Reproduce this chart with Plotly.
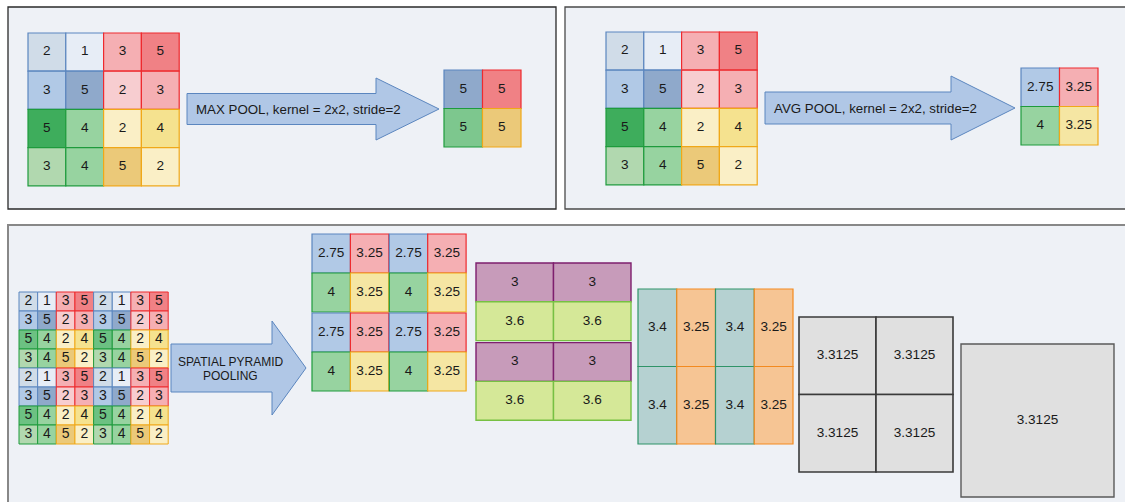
import plotly.graph_objects as go

# ---------------- data ----------------
BLUE, RED, GREEN, ORANGE = "#5B86BF", "#EE2A2E", "#1E9B3C", "#F0A818"
PURPLE, LIME, TEAL, AMBER, DARK, GREYL = "#7E1F6E", "#77C043", "#2F9468", "#F38A1F", "#3A3A3A", "#5A5A5A"

input_values = [[2, 1, 3, 5], [3, 5, 2, 3], [5, 4, 2, 4], [3, 4, 5, 2]]
input_fills = [
    ["#D0DCE8", "#E7EDF6", "#F5AFB3", "#F08185"],
    ["#B1C9E6", "#8FA9CB", "#F7CDD0", "#F5AFB3"],
    ["#3EAD5C", "#97D3A0", "#FAEFC6", "#F5E28F"],
    ["#B1D8AF", "#97D3A0", "#EBC979", "#FAEFC6"],
]
input_lines = [
    [BLUE, BLUE, RED, RED],
    [BLUE, BLUE, RED, RED],
    [GREEN, GREEN, ORANGE, ORANGE],
    [GREEN, GREEN, ORANGE, ORANGE],
]

maxpool_values = [[5, 5], [5, 5]]
maxpool_fills = [["#8FA9CB", "#F08185"], ["#7DC78E", "#EBC979"]]
pool_lines = [[BLUE, RED], [GREEN, ORANGE]]

avgpool_values = [["2.75", "3.25"], ["4", "3.25"]]
avgpool_fills = [["#B1C9E6", "#F5AFB3"], ["#97D3A0", "#F5E6A3"]]

spp_values = [
    [2, 1, 3, 5, 2, 1, 3, 5],
    [3, 5, 2, 3, 3, 5, 2, 3],
    [5, 4, 2, 4, 5, 4, 2, 4],
    [3, 4, 5, 2, 3, 4, 5, 2],
    [2, 1, 3, 5, 2, 1, 3, 5],
    [3, 5, 2, 3, 3, 5, 2, 3],
    [5, 4, 2, 4, 5, 4, 2, 4],
    [3, 4, 5, 2, 3, 4, 5, 2],
]
spp_fills = [
    ["#D0DCE8", "#E7EDF6", "#F5AFB3", "#F08185", "#D0DCE8", "#E7EDF6", "#F5AFB3", "#F08185"],
    ["#B1C9E6", "#8FA9CB", "#F7CDD0", "#F5AFB3", "#B1C9E6", "#8FA9CB", "#F7CDD0", "#F5AFB3"],
    ["#6CC182", "#97D3A0", "#FAEFC6", "#F5E28F", "#6CC182", "#97D3A0", "#FAEFC6", "#F5E28F"],
    ["#B1D8AF", "#97D3A0", "#EBC979", "#FAEFC6", "#B1D8AF", "#97D3A0", "#EBC979", "#FAEFC6"],
    ["#D0DCE8", "#E7EDF6", "#F5AFB3", "#F08185", "#D0DCE8", "#E7EDF6", "#F5AFB3", "#F08185"],
    ["#B1C9E6", "#8FA9CB", "#F7CDD0", "#F5AFB3", "#B1C9E6", "#8FA9CB", "#F7CDD0", "#F5AFB3"],
    ["#6CC182", "#97D3A0", "#FAEFC6", "#F5E28F", "#6CC182", "#97D3A0", "#FAEFC6", "#F5E28F"],
    ["#B1D8AF", "#97D3A0", "#EBC979", "#FAEFC6", "#B1D8AF", "#97D3A0", "#EBC979", "#FAEFC6"],
]
spp_lines = [
    [BLUE, BLUE, RED, RED, BLUE, BLUE, RED, RED],
    [BLUE, BLUE, RED, RED, BLUE, BLUE, RED, RED],
    [GREEN, GREEN, ORANGE, ORANGE, GREEN, GREEN, ORANGE, ORANGE],
    [GREEN, GREEN, ORANGE, ORANGE, GREEN, GREEN, ORANGE, ORANGE],
    [BLUE, BLUE, RED, RED, BLUE, BLUE, RED, RED],
    [BLUE, BLUE, RED, RED, BLUE, BLUE, RED, RED],
    [GREEN, GREEN, ORANGE, ORANGE, GREEN, GREEN, ORANGE, ORANGE],
    [GREEN, GREEN, ORANGE, ORANGE, GREEN, GREEN, ORANGE, ORANGE],
]

level1_values = [
    ["2.75", "3.25", "2.75", "3.25"],
    ["4", "3.25", "4", "3.25"],
    ["2.75", "3.25", "2.75", "3.25"],
    ["4", "3.25", "4", "3.25"],
]
level1_fills = [
    ["#B1C9E6", "#F5AFB3", "#B1C9E6", "#F5AFB3"],
    ["#97D3A0", "#F5E6A3", "#97D3A0", "#F5E6A3"],
    ["#B1C9E6", "#F5AFB3", "#B1C9E6", "#F5AFB3"],
    ["#97D3A0", "#F5E6A3", "#97D3A0", "#F5E6A3"],
]
level1_lines = [
    [BLUE, RED, BLUE, RED],
    [GREEN, ORANGE, GREEN, ORANGE],
    [BLUE, RED, BLUE, RED],
    [GREEN, ORANGE, GREEN, ORANGE],
]

level2_values = [["3", "3"], ["3.6", "3.6"], ["3", "3"], ["3.6", "3.6"]]
level2_fills = [["#C79BBA", "#C79BBA"], ["#D5E898", "#D5E898"], ["#C79BBA", "#C79BBA"], ["#D5E898", "#D5E898"]]
level2_lines = [[PURPLE, PURPLE], [LIME, LIME], [PURPLE, PURPLE], [LIME, LIME]]

level3_values = [["3.4", "3.25", "3.4", "3.25"], ["3.4", "3.25", "3.4", "3.25"]]
level3_fills = [["#B5D1D1", "#F6C594", "#B5D1D1", "#F6C594"], ["#B5D1D1", "#F6C594", "#B5D1D1", "#F6C594"]]
level3_lines = [[TEAL, AMBER, TEAL, AMBER], [TEAL, AMBER, TEAL, AMBER]]

level4_values = [["3.3125", "3.3125"], ["3.3125", "3.3125"]]
level4_fills = [["#E0E0E0", "#E0E0E0"], ["#E0E0E0", "#E0E0E0"]]
level4_lines = [[DARK, DARK], [DARK, DARK]]

level5_values = [["3.3125"]]
level5_fills = [["#E0E0E0"]]
level5_lines = [[GREYL]]

arrow_labels = ["MAX POOL, kernel = 2x2, stride=2", "AVG POOL, kernel = 2x2, stride=2"]
spp_label_lines = ["SPATIAL PYRAMID", "POOLING"]

# ---------------- layout geometry ----------------
W, H = 1125, 502
FONT = "Liberation Sans, Arial, sans-serif"
TXT = "#1A1A1A"
PANEL_BG = "#EEF1F6"

fig = go.Figure()
shapes = []

# panels
shapes.append(dict(type="rect", x0=8, y0=7, x1=556, y1=209, fillcolor=PANEL_BG,
                   line=dict(color="#2A2A2A", width=1.3), layer="below"))
shapes.append(dict(type="rect", x0=565, y0=7, x1=1135, y1=209, fillcolor=PANEL_BG,
                   line=dict(color="#4A4A4A", width=1.3), layer="below"))
shapes.append(dict(type="rect", x0=8, y0=225, x1=1135, y1=515, fillcolor=PANEL_BG,
                   line=dict(color="#888888", width=2), layer="below"))


def add_grid(values, fills, lines, x0, y0, cw, ch, size=13.6, lw=1.2,
             col_gap=None, row_gap=None):
    col_gap = col_gap or {}
    row_gap = row_gap or {}
    xs, ys, ts = [], [], []
    ny, nx = len(values), len(values[0])
    xe = []
    cx = x0
    for j in range(nx):
        xe.append(cx)
        cx += cw + col_gap.get(j, 0)
    ye = []
    cy = y0
    for i in range(ny):
        ye.append(cy)
        cy += ch + row_gap.get(i, 0)
    for i in range(ny):
        for j in range(nx):
            shapes.append(dict(type="rect", x0=xe[j], x1=xe[j] + cw, y0=ye[i], y1=ye[i] + ch,
                               fillcolor=fills[i][j], line=dict(color=lines[i][j], width=lw),
                               layer="below"))
            xs.append(xe[j] + cw / 2)
            ys.append(ye[i] + ch / 2)
            ts.append(str(values[i][j]))
    fig.add_trace(go.Scatter(x=xs, y=ys, text=ts, mode="text", textposition="middle center",
                             textfont=dict(family=FONT, size=size, color=TXT),
                             hoverinfo="skip", showlegend=False))


def add_arrow(xl, xh, xt, yc, sh, hh, fill="#B0C7E6", line="#5B86BF"):
    path = (f"M {xl},{yc - sh} L {xh},{yc - sh} L {xh},{yc - hh} L {xt},{yc} "
            f"L {xh},{yc + hh} L {xh},{yc + sh} L {xl},{yc + sh} Z")
    shapes.append(dict(type="path", path=path, fillcolor=fill,
                       line=dict(color=line, width=1), layer="below"))


# panel 1
add_grid(input_values, input_fills, input_lines, 28, 33, 37.8, 38.2)
add_arrow(187, 376, 439, 109, 15.5, 31)
add_grid(maxpool_values, maxpool_fills, pool_lines, 444, 70, 38.5, 38.5)

# panel 2
add_grid(input_values, input_fills, input_lines, 606, 32, 37.8, 38.2)
add_arrow(765, 951, 1015, 108, 16, 32)
add_grid(avgpool_values, avgpool_fills, pool_lines, 1021, 68, 38.5, 38.5)

# panel 3
add_grid(spp_values, spp_fills, spp_lines, 19, 292, 18.65, 19, size=14, lw=1)
add_arrow(171, 272, 306, 368, 24, 47)
add_grid(level1_values, level1_fills, level1_lines, 312, 234, 38.4, 39, col_gap={1: 0.5}, row_gap={1: 1})
add_grid(level2_values, level2_fills, level2_lines, 476, 263, 77.5, 38.8, row_gap={1: 2}, lw=1.4)
add_grid(level3_values, level3_fills, level3_lines, 638, 289, 38.75, 77.5, lw=1.2)
add_grid(level4_values, level4_fills, level4_lines, 799, 317, 77, 77.5, lw=1.6)
add_grid(level5_values, level5_fills, level5_lines, 961, 344, 153, 153, lw=1.4)

annotations = [
    dict(x=194, y=109, text=arrow_labels[0], xanchor="left", yanchor="middle", showarrow=False,
         font=dict(family=FONT, size=13.3, color=TXT)),
    dict(x=772, y=108, text=arrow_labels[1], xanchor="left", yanchor="middle", showarrow=False,
         font=dict(family=FONT, size=13.3, color=TXT)),
    dict(x=230, y=362, text=spp_label_lines[0], xanchor="center", yanchor="middle", showarrow=False,
         font=dict(family=FONT, size=12, color=TXT)),
    dict(x=230, y=376, text=spp_label_lines[1], xanchor="center", yanchor="middle", showarrow=False,
         font=dict(family=FONT, size=12, color=TXT)),
]

fig.update_layout(
    width=W, height=H, margin=dict(l=0, r=0, t=0, b=0),
    paper_bgcolor="white", plot_bgcolor="white",
    xaxis=dict(range=[0, W], visible=False, fixedrange=True),
    yaxis=dict(range=[H, 0], visible=False, fixedrange=True),
    shapes=shapes, annotations=annotations, showlegend=False,
)
fig.write_html(
    "out.html",
    config={"displayModeBar": False},
    post_script="document.body.style.margin='0';document.body.style.overflow='hidden';",
)
